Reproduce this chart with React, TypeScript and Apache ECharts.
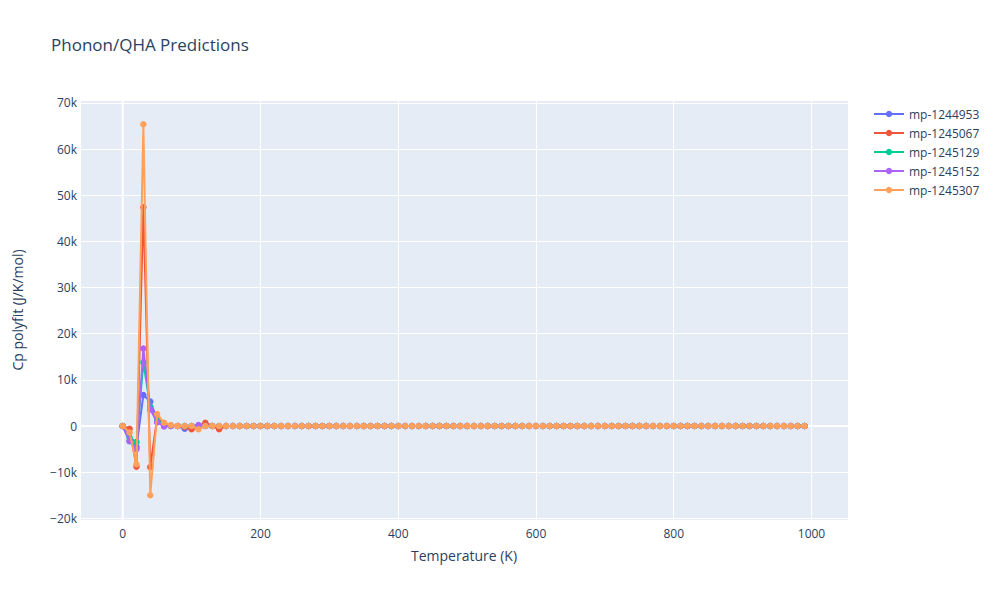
import React, { useEffect, useRef } from "react";
import * as echarts from "echarts";

const temperatures = [
  0, 10, 20, 30, 40, 50, 60, 70, 80, 90, 100, 110, 120, 130, 140, 150, 160, 170, 180, 190,
  200, 210, 220, 230, 240, 250, 260, 270, 280, 290, 300, 310, 320, 330, 340, 350, 360, 370, 380, 390,
  400, 410, 420, 430, 440, 450, 460, 470, 480, 490, 500, 510, 520, 530, 540, 550, 560, 570, 580, 590,
  600, 610, 620, 630, 640, 650, 660, 670, 680, 690, 700, 710, 720, 730, 740, 750, 760, 770, 780, 790,
  800, 810, 820, 830, 840, 850, 860, 870, 880, 890, 900, 910, 920, 930, 940, 950, 960, 970, 980, 990,
];

// Values from 160 K to 990 K (flat at zero for every material)
const flatTail = [
  0, 0, 0, 0, 0, 0, 0, 0, 0, 0, 0, 0, 0, 0, 0, 0, 0, 0, 0, 0, 0,
  0, 0, 0, 0, 0, 0, 0, 0, 0, 0, 0, 0, 0, 0, 0, 0, 0, 0, 0, 0, 0,
  0, 0, 0, 0, 0, 0, 0, 0, 0, 0, 0, 0, 0, 0, 0, 0, 0, 0, 0, 0, 0,
  0, 0, 0, 0, 0, 0, 0, 0, 0, 0, 0, 0, 0, 0, 0, 0, 0, 0, 0, 0, 0,
];

// Values from 0 K to 150 K
const mp1244953 = [0, -3300, -4500, 6700, 5300, 1500, 300, 100, 0, -600, -300, 0, 100, 0, -100, 0];
const mp1245067 = [0, -600, -8800, 47400, -8900, 1800, 300, 0, 0, -200, -700, 0, 700, 0, -700, 0];
const mp1245129 = [0, -2500, -3500, 13800, 4200, 1200, 300, 0, 0, 0, 0, 0, 0, 0, 0, 0];
const mp1245152 = [0, -3200, -5000, 16800, 3600, 800, -100, 0, 0, 0, 0, 200, 0, 0, 0, 0];
const mp1245307 = [0, -1400, -8300, 65400, -15000, 2600, 700, 200, 0, 0, 0, -700, 0, 0, 0, 0];

const seriesNames = ["mp-1244953", "mp-1245067", "mp-1245129", "mp-1245152", "mp-1245307"];
const seriesHeads = [mp1244953, mp1245067, mp1245129, mp1245152, mp1245307];
const colors = ["#636efa", "#EF553B", "#00cc96", "#ab63fa", "#FFA15A"];

const X_MIN = -62;
const X_MAX = 1053;
const Y_MIN = -20370;
const Y_MAX = 70650;

const TEXT = "#2a3f5f";
const FONT = '"Open Sans", verdana, arial, sans-serif';

export default function App() {
  const ref = useRef<HTMLDivElement>(null);

  useEffect(() => {
    if (!ref.current) return;
    const chart = echarts.init(ref.current, undefined, { renderer: "svg" });

    const dataSeries = seriesNames.map((name, k) => {
      const values = [...seriesHeads[k], ...flatTail];
      return {
        name,
        type: "line",
        data: temperatures.map((t, i) => [t, values[i]]),
        symbol: "circle",
        symbolSize: 6.5,
        showSymbol: true,
        lineStyle: { width: 2, color: colors[k] },
        itemStyle: { color: colors[k] },
        z: 3 + k,
      };
    });

    const zeroLines = [
      {
        name: "zx",
        type: "line",
        data: [[X_MIN, 0], [X_MAX, 0]],
        symbol: "none",
        lineStyle: { color: "#ffffff", width: 2 },
        silent: true,
        z: 1,
      },
      {
        name: "zy",
        type: "line",
        data: [[0, Y_MIN], [0, Y_MAX]],
        symbol: "none",
        lineStyle: { color: "#ffffff", width: 2 },
        silent: true,
        z: 1,
      },
    ];

    chart.setOption({
      animation: false,
      textStyle: { fontFamily: FONT, color: TEXT },
      title: {
        text: "Phonon/QHA Predictions",
        left: 46,
        top: 31,
        textStyle: { fontFamily: FONT, fontSize: 17, fontWeight: "normal", color: TEXT },
      },
      legend: {
        data: seriesNames,
        orient: "vertical",
        left: 868,
        top: 103,
        itemWidth: 30,
        itemHeight: 8,
        itemGap: 7,
        textStyle: { fontFamily: FONT, fontSize: 12, color: TEXT },
      },
      grid: {
        left: 80,
        right: 152,
        top: 100,
        bottom: 80,
        show: true,
        backgroundColor: "#E5ECF6",
        borderWidth: 0,
      },
      xAxis: {
        type: "value",
        min: X_MIN,
        max: X_MAX,
        splitNumber: 5,
        name: "Temperature (K)",
        nameLocation: "middle",
        nameGap: 28,
        nameTextStyle: { fontFamily: FONT, fontSize: 14, color: TEXT },
        axisLine: { show: false },
        axisTick: { show: false },
        axisLabel: {
          showMinLabel: false,
          showMaxLabel: false,
          margin: 7,
          fontFamily: FONT,
          fontSize: 12,
          color: TEXT,
          formatter: (v: number) => String(v),
        },
        splitLine: { show: true, lineStyle: { color: "#ffffff", width: 1 } },
      },
      yAxis: {
        type: "value",
        min: Y_MIN,
        max: Y_MAX,
        splitNumber: 9,
        name: "Cp polyfit (J/K/mol)",
        nameLocation: "middle",
        nameGap: 56,
        nameTextStyle: { fontFamily: FONT, fontSize: 14, color: TEXT },
        axisLine: { show: false },
        axisTick: { show: false },
        axisLabel: {
          showMinLabel: false,
          showMaxLabel: false,
          margin: 3,
          fontFamily: FONT,
          fontSize: 12,
          color: TEXT,
          formatter: (v: number) =>
            v === 0 ? "0" : (v < 0 ? "\u2212" : "") + Math.abs(v) / 1000 + "k",
        },
        splitLine: { show: true, lineStyle: { color: "#ffffff", width: 1 } },
      },
      series: [...zeroLines, ...dataSeries],
    });

    return () => chart.dispose();
  }, []);

  return <div ref={ref} style={{ width: 1000, height: 600, position: "absolute", left: 0, top: 0 }} />;
}
